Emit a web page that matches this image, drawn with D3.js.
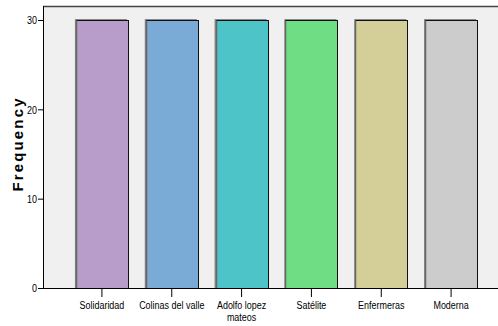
<!DOCTYPE html>
<html><head><meta charset="utf-8">
<script src="https://cdn.jsdelivr.net/npm/d3@7"></script>
<style>
body{margin:0;background:#fff;}
svg{display:block;}
.tick text{font-family:"Liberation Sans",Arial,sans-serif;font-size:11.5px;fill:#000;}
</style></head>
<body>
<svg id="chart" width="498" height="326"></svg>
<script>
const categories = [["Solidaridad"],["Colinas del valle"],["Adolfo lopez","mateos"],["Satélite"],["Enfermeras"],["Moderna"]];
const values = [30,30,30,30,30,30];
const colors = ["#b89cca","#7aaad6","#4cc4c8","#6edd84","#d4cf98","#cccccc"];
const yTicks = [0,10,20,30];

(function(){
const svg = d3.select("#chart");
const W = 498, H = 326;
const mLeft = 43, mTop = 6, mBottom = 288, mRight = 510;
const narrow = 0.78;

svg.append("rect").attr("x",mLeft).attr("y",mTop).attr("width",mRight-mLeft).attr("height",mBottom-mTop).attr("fill","#f0f0f0");
svg.append("line").attr("x1",mLeft).attr("x2",W).attr("y1",mTop+0.5).attr("y2",mTop+0.5).attr("stroke","#444").attr("stroke-width",1.5);

const keys = categories.map(c=>c.join(" "));
const x = d3.scaleBand().domain(keys).range([67,486]).paddingInner(0.255).paddingOuter(0.1275);
const y = d3.scaleLinear().domain([0,30*(mBottom-mTop)/(mBottom-20)]).range([mBottom,mTop]);

const g = svg.append("g");
keys.forEach((k,i)=>{
  const bx = x(k), bw = x.bandwidth(), by = y(values[i]), bh = y(0)-y(values[i]);
  g.append("rect").attr("x",bx-1).attr("y",by-1).attr("width",bw).attr("height",bh+1).attr("fill","#888");
  g.append("rect").attr("x",Math.round(bx)+0.5).attr("y",Math.round(by)+0.5).attr("width",Math.round(bw)).attr("height",bh).attr("fill",colors[i]).attr("stroke","#111").attr("stroke-width",1);
  g.append("line").attr("x1",Math.round(bx)+0.5).attr("x2",Math.round(bx)+0.5).attr("y1",Math.round(by)+0.5).attr("y2",mBottom).attr("stroke","#666").attr("stroke-width",1.5);
});

const ya = svg.append("g").attr("transform",`translate(${mLeft},0)`)
  .call(d3.axisLeft(y).tickValues(yTicks).tickSize(5).tickPadding(0).tickFormat(d3.format("d")));
ya.select(".domain").attr("d",`M0.5,${mTop}V${mBottom}`).attr("stroke","#000");
ya.selectAll(".tick text").each(function(){
  const t = d3.select(this);
  const xx = +t.attr("x");
  t.attr("x",null).attr("transform",`translate(${xx-1},0) scale(${narrow},1)`);
});

const xa = svg.append("g").attr("transform",`translate(0,${mBottom})`)
  .call(d3.axisBottom(x).tickSize(9).tickPadding(3).tickFormat(()=>""));
xa.select(".domain").attr("d",`M${mLeft},0.5H${W}`).attr("stroke","#000");
xa.selectAll(".tick").each(function(d,i){
  const t = d3.select(this).select("text");
  t.text(null).attr("dy",null).attr("y",21).attr("transform",`scale(${narrow},1)`);
  categories[i].forEach((s,j)=>{
    t.append("tspan").attr("x",0).attr("dy",j===0?0:12).text(s);
  });
});

svg.append("text").attr("transform","translate(23,145) rotate(-90)")
  .attr("text-anchor","middle")
  .attr("font-family","Liberation Sans, Arial, sans-serif").attr("font-weight","bold").attr("font-size",15)
  .attr("textLength",93).attr("lengthAdjust","spacing")
  .text("Frequency");
})();
</script>
</body></html>
